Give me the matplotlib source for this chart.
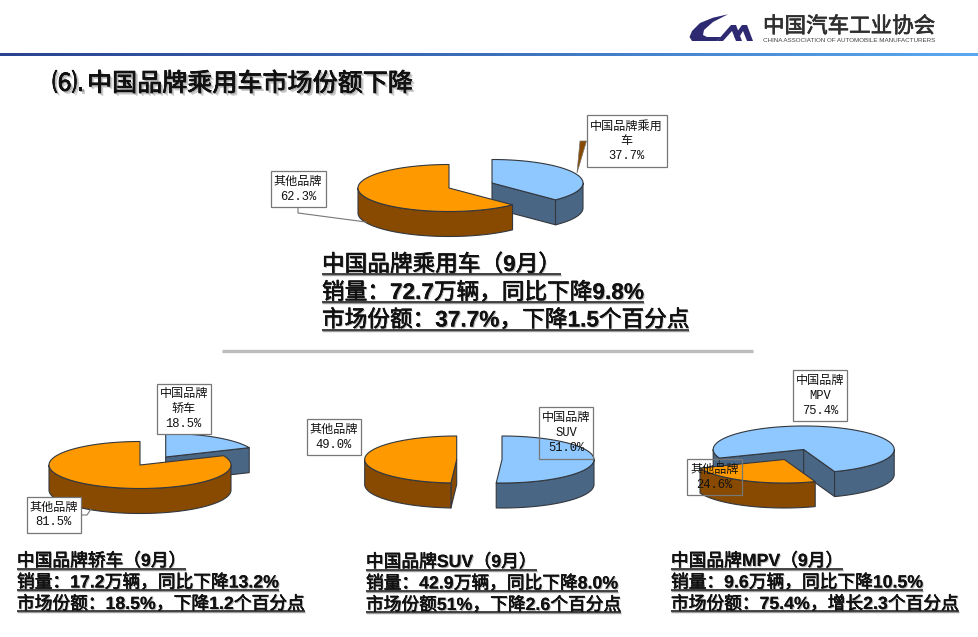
import re
import numpy as np
import matplotlib
matplotlib.use('Agg')
import matplotlib.pyplot as plt
from matplotlib.patches import Polygon, Rectangle
import matplotlib.patheffects as pe

# ---------- data ----------
PIE_NAMES = ['中国品牌乘用\n车', '中国品牌\n轿车', '中国品牌\nSUV', '中国品牌\nMPV']
OTHER_NAME = '其他品牌'
CHINA_SHARE = [37.7, 18.5, 51.0, 75.4]
OTHER_SHARE = [62.3, 81.5, 49.0, 24.6]
TITLE_NO = '⑹.'
TITLE = '中国品牌乘用车市场份额下降'
HEAD_TEXT = ['中国品牌乘用车（9月）', '销量：72.7万辆，同比下降9.8%', '市场份额：37.7%，下降1.5个百分点']
SEDAN_TEXT = ['中国品牌轿车（9月）', '销量：17.2万辆，同比下降13.2%', '市场份额：18.5%，下降1.2个百分点']
SUV_TEXT = ['中国品牌SUV（9月）', '销量：42.9万辆，同比下降8.0%', '市场份额51%，下降2.6个百分点']
MPV_TEXT = ['中国品牌MPV（9月）', '销量：9.6万辆，同比下降10.5%', '市场份额：75.4%，增长2.3个百分点']

# ---------- style ----------
BLUE, BLUE_D = '#8FC7FF', '#4A6685'
ORANGE, ORANGE_D = '#FF9900', '#874A00'
EDGE = '#33383f'
LABEL = ['Liberation Mono', 'Noto Sans CJK SC']
INK = '#111111'

fig = plt.figure(figsize=(9.79, 6.37), dpi=100)
ax = fig.add_axes([0, 0, 1, 1])
ax.set_xlim(0, 979)
ax.set_ylim(637, 0)
ax.axis('off')
fig.canvas.draw()
REND = fig.canvas.get_renderer()


def pt(c, r, a):
    a = np.radians(a)
    return np.c_[c[0] + r[0] * np.sin(a), c[1] - r[1] * np.cos(a)]


def wedge(c, r, depth, a0, a1, top, side, z):
    arc = pt(c, r, np.linspace(a0, a1, 200))
    cc = np.array(c, float)
    kw = dict(ec=EDGE, lw=0.8, joinstyle='round', zorder=z)
    for a, vis in ((a0, np.sin(np.radians(a0)) < -1e-6), (a1, np.sin(np.radians(a1)) > 1e-6)):
        if vis:
            p = pt(c, r, np.array([a]))[0]
            ax.add_patch(Polygon([cc, p, p + [0, depth], cc + [0, depth]], fc=side, **kw))
    for k in (-1, 0, 1, 2):
        lo, hi = max(a0, 90 + 360 * k), min(a1, 270 + 360 * k)
        if hi > lo:
            s = pt(c, r, np.linspace(lo, hi, 120))
            ax.add_patch(Polygon(np.r_[s, (s + [0, depth])[::-1]], fc=side, **kw))
    ax.add_patch(Polygon(np.r_[[cc], arc], fc=top, **kw))


def pie(i, cb, co, rot, rx=91, ry=23.5, depth=25):
    split = rot + CHINA_SHARE[i] * 3.6
    wedge(cb, (rx, ry), depth, rot, split, BLUE, BLUE_D, 3)
    wedge(co, (rx, ry), depth, split, split + OTHER_SHARE[i] * 3.6, ORANGE, ORANGE_D, 4)


def box(x0, y0, x1, y1, txt, filled=True):
    ax.add_patch(Rectangle((x0, y0), x1 - x0, y1 - y0, fc='white' if filled else 'none',
                           ec='#777777', lw=0.9, zorder=6))
    ax.text((x0 + x1) / 2, (y0 + y1) / 2, txt, ha='center', va='center', fontsize=8.7,
            family=LABEL, color=INK, zorder=7, linespacing=1.3)


def runs(x, base, s, size, shadow, stroke=0.35, color=INK, z=8):
    """Write s with bold Latin and medium-looking CJK, one run after another."""
    for part in re.findall(r'[\x20-\x7e]+|[^\x20-\x7e]+', s):
        latin = ord(part[0]) < 127
        fx = list(shadow)
        if not latin and stroke:
            fx.append(pe.withStroke(linewidth=stroke, foreground=color))
        else:
            fx.append(pe.Normal())
        t = ax.text(x, base, part, fontsize=size, color=color, ha='left', va='baseline', zorder=z,
                    family='Liberation Sans' if latin else 'Noto Sans CJK SC',
                    weight='bold' if latin else 'normal', path_effects=fx)
        x += t.get_window_extent(REND).width if latin else len(part) * size * 100 / 72
    return x


def para(x, bases, unders, lines, size):
    sh = [pe.withSimplePatchShadow(offset=(0.8, -0.8), shadow_rgbFace='#999999', alpha=0.7)]
    for b, u, s in zip(bases, unders, lines):
        end = runs(x, b, s, size, sh)
        ax.plot([x, end], [u + 1, u + 1], color='#9a9a9a', lw=1.0, zorder=8, solid_capstyle='butt')
        ax.plot([x, end], [u, u], color=INK, lw=1.1, zorder=8, solid_capstyle='butt')


# ---------- header ----------
grad = np.linspace(0, 1, 256)[None, :]
cmap = matplotlib.colors.LinearSegmentedColormap.from_list('b', ['#2A4390', '#3C70BC', '#5AA9F2'])
ax.imshow(grad, extent=(0, 979, 56, 53.3), cmap=cmap, aspect='auto', zorder=1)
ax.set_xlim(0, 979)
ax.set_ylim(637, 0)
NAVY = '#2E2A72'
ax.add_patch(Polygon([(728, 14.3), (713, 17.7), (700, 23), (692, 31), (689.5, 37), (692, 41), (717, 41),
                      (721, 37), (707, 37), (703, 35), (704, 30), (713, 22)], fc=NAVY, ec='none', zorder=3))
ax.add_patch(Polygon([(717, 41), (731, 25), (736, 25), (742, 41), (736, 41), (732, 31), (723, 41)],
                     fc=NAVY, ec='none', zorder=3))
ax.add_patch(Polygon([(734, 36), (742, 25), (747, 25), (753, 41), (747, 41), (743, 31), (737, 41)],
                     fc=NAVY, ec='none', zorder=3))
runs(763, 32.5, '中国汽车工业协会', 15.5, [], stroke=0.5, color='#2f2f2f', z=3)
ax.text(763.5, 41, 'CHINA ASSOCIATION OF AUTOMOBILE MANUFACTURERS', fontsize=4.48,
        family='Liberation Sans', color='#444444', va='center', ha='left')

title_shadow = [pe.withSimplePatchShadow(offset=(2, -2), shadow_rgbFace='#aaaaaa', alpha=0.6),
                pe.withSimplePatchShadow(offset=(1, -1), shadow_rgbFace='#888888', alpha=0.7)]
runs(52, 91, TITLE_NO, 18.05, title_shadow, stroke=0.5)
runs(87, 91, TITLE, 18.05, title_shadow, stroke=0.5)

# ---------- separator ----------
ax.plot([222, 753], [350.5, 350.5], color='#BDBDBD', lw=2.4, solid_capstyle='butt', zorder=2)

# ---------- pies ----------
pie(0, (492, 183), (449, 188), 0)
pie(1, (165.7, 457), (140, 465), 0)
pie(2, (502, 459.5), (456.7, 459.5), 0, rx=92)
pie(3, (803.7, 449.5), (784.3, 459.5), 248.6, rx=90.5)

# ---------- leaders ----------
ax.plot([298, 298, 366], [207, 213, 222], color='#777777', lw=0.8, zorder=5)
ax.add_patch(Polygon([(577, 173), (580, 141), (586.5, 141)], fc=ORANGE_D, ec='#777777', lw=0.5, zorder=5))
ax.plot([81, 87, 91], [515, 515, 509], color='#777777', lw=0.8, zorder=5)

# ---------- labels ----------
pct = lambda v: f'{v:.1f}%'
box(586.7, 115.3, 666.7, 167.3, f'{PIE_NAMES[0]}\n{pct(CHINA_SHARE[0])}')
box(270.7, 171, 325.7, 207.3, f'{OTHER_NAME}\n{pct(OTHER_SHARE[0])}')
box(156.7, 384, 210.7, 434.3, f'{PIE_NAMES[1]}\n{pct(CHINA_SHARE[1])}')
box(26.7, 497.3, 81, 532.7, f'{OTHER_NAME}\n{pct(OTHER_SHARE[1])}')
box(306.7, 419.3, 360.7, 455.3, f'{OTHER_NAME}\n{pct(OTHER_SHARE[2])}')
box(539, 407.3, 593.3, 458.7, f'{PIE_NAMES[2]}\n{pct(CHINA_SHARE[2])}', filled=False)
box(793.3, 370.3, 847.3, 421.3, f'{PIE_NAMES[3]}\n{pct(CHINA_SHARE[3])}')
box(687.3, 459.3, 741.7, 495.3, f'{OTHER_NAME}\n{pct(OTHER_SHARE[3])}', filled=False)

# ---------- text blocks ----------
para(322, [271, 299, 326.5], [274.3, 302, 330], HEAD_TEXT, 16.3)
para(17, [566, 587.5, 609], [568.5, 589.5, 611], SEDAN_TEXT, 12.75)
para(366, [567, 588.5, 610], [569.5, 590.5, 612], SUV_TEXT, 12.75)
para(671, [566, 587.5, 609], [568.5, 589.5, 611], MPV_TEXT, 12.75)

fig.savefig('out.png', dpi=100)
